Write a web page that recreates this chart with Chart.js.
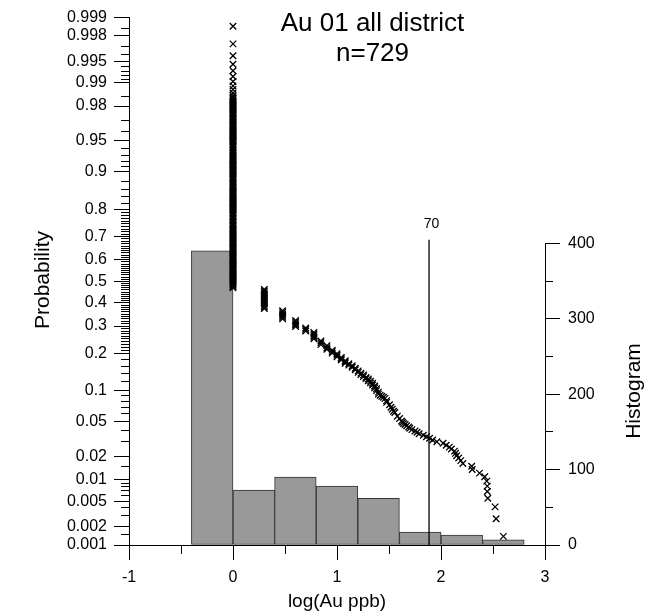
<!DOCTYPE html>
<html><head><meta charset="utf-8">
<script src="https://cdn.jsdelivr.net/npm/chart.js@4/dist/chart.umd.min.js"></script>
<style>html,body{margin:0;padding:0;background:#fff}#wrap{width:649px;height:616px;position:relative}</style>
</head><body><div id="wrap"><canvas id="c" width="649" height="616"></canvas></div>
<script>
// ---------- data ----------
const titleLines = ['Au 01 all district', 'n=729'];
const xAxisTitle = 'log(Au ppb)';
const yAxisTitle = 'Probability';
const y2AxisTitle = 'Histogram';

const xTickValues = [-1, -0.5, 0, 0.5, 1, 1.5, 2, 2.5, 3];
const xTickLabels = ['-1', '', '0', '', '1', '', '2', '', '3'];

const probMajorTicks = [0.001, 0.002, 0.005, 0.01, 0.02, 0.05, 0.1, 0.2, 0.3, 0.4, 0.5, 0.6, 0.7, 0.8, 0.9, 0.95, 0.98, 0.99, 0.995, 0.998, 0.999];
const probMinorTicks = [0.0015, 0.003, 0.004, 0.006, 0.007, 0.008, 0.009, 0.015, 0.03, 0.04, 0.06, 0.07, 0.08, 0.09,
  0.12, 0.14, 0.16, 0.18,
  0.21, 0.22, 0.23, 0.24, 0.25, 0.26, 0.27, 0.28, 0.29,
  0.31, 0.32, 0.33, 0.34, 0.35, 0.36, 0.37, 0.38, 0.39,
  0.41, 0.42, 0.43, 0.44, 0.45, 0.46, 0.47, 0.48, 0.49,
  0.51, 0.52, 0.53, 0.54, 0.55, 0.56, 0.57, 0.58, 0.59,
  0.61, 0.62, 0.63, 0.64, 0.65, 0.66, 0.67, 0.68, 0.69,
  0.71, 0.72, 0.73, 0.74, 0.75, 0.76, 0.77, 0.78, 0.79,
  0.82, 0.84, 0.86, 0.88, 0.91, 0.92, 0.93, 0.94, 0.96, 0.97, 0.985,
  0.991, 0.992, 0.993, 0.994, 0.996, 0.997, 0.9985];

const histTickValues = [0, 50, 100, 150, 200, 250, 300, 350, 400];
const histTickLabels = ['0', '', '100', '', '200', '', '300', '', '400'];

// histogram bins (log Au) and counts
const binStart = [-0.4, 0, 0.4, 0.8, 1.2, 1.6, 2.0, 2.4];
const binWidth = 0.4;
const binCount = [390, 73, 90, 78, 62, 17, 13, 7];

// threshold line (70 ppb)
const thresholdLabel = '70';
const thresholdLogAu = 1.885;
const thresholdTop = 405;

// probability plot: log(Au) values and their plotted probabilities
const groupLogAu = [0, 0.301, 0.477, 0.602, 0.699, 0.778, 0.845, 0.903, 0.954, 1.0, 1.041, 1.079, 1.114, 1.146, 1.176, 1.204, 1.23, 1.255, 1.279, 1.301, 1.322, 1.342, 1.362, 1.38, 1.398, 1.415, 1.431, 1.447, 1.462, 1.477, 1.505, 1.519, 1.531, 1.544, 1.556, 1.58, 1.602];
const groupProb = [
  [0.470, 0.475, 0.480, 0.485, 0.490, 0.495, 0.500, 0.505, 0.510, 0.515, 0.520, 0.525, 0.530, 0.535, 0.540, 0.545, 0.550, 0.555, 0.560, 0.565,
   0.570, 0.575, 0.580, 0.585, 0.590, 0.595, 0.600, 0.605, 0.610, 0.615, 0.620, 0.625, 0.630, 0.635, 0.640, 0.645, 0.650, 0.655, 0.660, 0.665,
   0.670, 0.675, 0.680, 0.685, 0.690, 0.695, 0.700, 0.705, 0.710, 0.715, 0.720, 0.725, 0.730, 0.735, 0.740, 0.745, 0.750, 0.755, 0.760, 0.765,
   0.770, 0.775, 0.780, 0.785, 0.790, 0.795, 0.800,
   0.803, 0.806, 0.809, 0.812, 0.815, 0.818, 0.821, 0.824, 0.827, 0.830, 0.833, 0.836, 0.839, 0.842, 0.845, 0.848, 0.851, 0.854, 0.857, 0.860,
   0.863, 0.866, 0.869, 0.872, 0.875, 0.878, 0.881, 0.884, 0.887, 0.890, 0.893, 0.896, 0.899,
   0.901, 0.903, 0.905, 0.907, 0.909, 0.911, 0.913, 0.915, 0.917, 0.919, 0.921, 0.923, 0.925, 0.927, 0.929, 0.931, 0.933, 0.935, 0.937, 0.939,
   0.941, 0.943, 0.945, 0.947, 0.949,
   0.950, 0.951, 0.952, 0.953, 0.954, 0.955, 0.956, 0.957, 0.958, 0.959, 0.960, 0.961, 0.962, 0.963, 0.964, 0.965, 0.966, 0.967, 0.968, 0.969,
   0.970, 0.971, 0.972, 0.973, 0.974, 0.975,
   0.9756, 0.9762, 0.9768, 0.9774, 0.9780, 0.9786, 0.9792, 0.9798, 0.9804, 0.9810, 0.9816, 0.9822, 0.9828, 0.9834, 0.9840, 0.9846, 0.9852,
   0.9863, 0.9877, 0.9890, 0.9904, 0.9918, 0.9932, 0.9945, 0.9959, 0.9973, 0.9986],
  [0.462, 0.455, 0.447, 0.44, 0.432, 0.425, 0.418, 0.41, 0.403, 0.396, 0.389, 0.382, 0.375],
  [0.365, 0.358, 0.351, 0.344, 0.337, 0.33],
  [0.323, 0.316, 0.31, 0.304, 0.298],
  [0.292, 0.286, 0.28],
  [0.274, 0.268, 0.262, 0.256, 0.25],
  [0.242, 0.236, 0.229],
  [0.225, 0.218, 0.213],
  [0.21, 0.205, 0.2],
  [0.198, 0.193, 0.188],
  [0.186, 0.182, 0.178],
  [0.176, 0.172, 0.168],
  [0.167, 0.163],
  [0.161, 0.157],
  [0.154, 0.15],
  [0.147, 0.143],
  [0.141, 0.137],
  [0.136, 0.132],
  [0.13, 0.127],
  [0.126, 0.122],
  [0.121, 0.117],
  [0.116, 0.112],
  [0.11, 0.106],
  [0.104, 0.1],
  [0.097, 0.093],
  [0.091], [0.089], [0.087], [0.085],
  [0.081, 0.078],
  [0.074], [0.07], [0.067], [0.064], [0.062], [0.057], [0.054]
];
// upper tail: individual samples (log Au, probability)
const tailLogAu = [1.62, 1.63, 1.64, 1.655, 1.67, 1.69, 1.70, 1.72, 1.75, 1.77, 1.79, 1.83, 1.86, 1.89, 1.92, 1.96, 2.02, 2.05, 2.08, 2.10, 2.13, 2.14, 2.15, 2.17, 2.19, 2.21, 2.295, 2.30, 2.37, 2.42, 2.44, 2.445, 2.445, 2.45, 2.52, 2.53, 2.60];
const tailProb  = [0.0507, 0.0493, 0.0479, 0.0466, 0.0452, 0.0438, 0.0425, 0.0411, 0.0397, 0.0384, 0.0370, 0.0356, 0.0342, 0.0329, 0.0315, 0.0301, 0.0288, 0.0274, 0.0260, 0.0247, 0.0233, 0.0219, 0.0205, 0.0192, 0.0178, 0.0164, 0.0151, 0.0137, 0.0123, 0.0110, 0.0096, 0.0082, 0.0069, 0.0055, 0.0041, 0.0027, 0.0014];

// ---------- normal probability transform ----------
function qnorm(p) {
  const a = [-3.969683028665376e+01, 2.209460984245205e+02, -2.759285104469687e+02, 1.383577518672690e+02, -3.066479806614716e+01, 2.506628277459239e+00];
  const b = [-5.447609879822406e+01, 1.615858368580409e+02, -1.556989798598866e+02, 6.680131188771972e+01, -1.328068155288572e+01];
  const c = [-7.784894002430293e-03, -3.223964580411365e-01, -2.400758277161838e+00, -2.549732539343734e+00, 4.374664141464968e+00, 2.938163982698783e+00];
  const d = [7.784695709041462e-03, 3.224671290700398e-01, 2.445134137142996e+00, 3.754408661907416e+00];
  const pl = 0.02425, ph = 1 - pl;
  let q, r;
  if (p < pl) { q = Math.sqrt(-2 * Math.log(p)); return (((((c[0]*q+c[1])*q+c[2])*q+c[3])*q+c[4])*q+c[5]) / ((((d[0]*q+d[1])*q+d[2])*q+d[3])*q+1); }
  if (p <= ph) { q = p - 0.5; r = q*q; return (((((a[0]*r+a[1])*r+a[2])*r+a[3])*r+a[4])*r+a[5])*q / (((((b[0]*r+b[1])*r+b[2])*r+b[3])*r+b[4])*r+1); }
  q = Math.sqrt(-2 * Math.log(1 - p));
  return -(((((c[0]*q+c[1])*q+c[2])*q+c[3])*q+c[4])*q+c[5]) / ((((d[0]*q+d[1])*q+d[2])*q+d[3])*q+1);
}

const points = [];
groupLogAu.forEach((x, i) => groupProb[i].forEach(p => points.push({x: x, y: qnorm(p)})));
tailLogAu.forEach((x, i) => points.push({x: x, y: qnorm(tailProb[i])}));

const probTicks = probMajorTicks.map(p => ({p, label: String(p)}))
  .concat(probMinorTicks.map(p => ({p, label: ''})))
  .sort((a, b) => a.p - b.p);

const FONT = "'Liberation Sans', Arial, Helvetica, sans-serif";
Chart.defaults.font.family = FONT;
Chart.defaults.color = '#000';

const isMinor = ctx => ctx.tick && ctx.tick.label === '';

const textPlugin = {
  id: 'texts',
  afterDraw(chart) {
    const {ctx, scales} = chart;
    ctx.save();
    // right (histogram) axis line, only over its tick range
    const xr = Math.round(scales.y2.left) + 0.5;
    ctx.strokeStyle = '#000'; ctx.lineWidth = 1;
    ctx.beginPath();
    ctx.moveTo(xr, scales.y2.getPixelForValue(histTickValues[histTickValues.length - 1]));
    ctx.lineTo(xr, scales.y2.getPixelForValue(0));
    ctx.stroke();
    ctx.fillStyle = '#000';
    // title
    ctx.font = '26px ' + FONT;
    ctx.textAlign = 'center'; ctx.textBaseline = 'alphabetic';
    ctx.fillText(titleLines[0], 372.5, 31);
    ctx.fillText(titleLines[1], 372.5, 61);
    // threshold label
    ctx.font = '14px ' + FONT;
    ctx.textBaseline = 'middle';
    ctx.fillText(thresholdLabel, scales.x.getPixelForValue(thresholdLogAu) + 2.5, scales.y2.getPixelForValue(thresholdTop) - 15.5);
    // axis titles
    ctx.font = '19px ' + FONT;
    ctx.fillText(xAxisTitle, (chart.chartArea.left + chart.chartArea.right) / 2, 602);
    ctx.font = '21px ' + FONT;
    ctx.save(); ctx.translate(43, 280); ctx.rotate(-Math.PI / 2); ctx.fillText(yAxisTitle, 0, 0); ctx.restore();
    ctx.save(); ctx.translate(634, 391); ctx.rotate(-Math.PI / 2); ctx.fillText(y2AxisTitle, 0, 0); ctx.restore();
    ctx.restore();
  }
};

new Chart(document.getElementById('c'), {
  type: 'scatter',
  data: {
    datasets: [
      {
        type: 'bar',
        data: binStart.map((s, i) => ({x: s + binWidth / 2, y: binCount[i]})),
        yAxisID: 'y2', xAxisID: 'x',
        backgroundColor: '#999999', borderColor: '#333333', borderWidth: 1, borderSkipped: false,
        barPercentage: 1, categoryPercentage: 1, order: 3
      },
      {
        type: 'line',
        data: [{x: thresholdLogAu, y: 0}, {x: thresholdLogAu, y: thresholdTop}],
        yAxisID: 'y2', xAxisID: 'x',
        borderColor: '#000', borderWidth: 1.3, pointRadius: 0, fill: false, order: 2
      },
      {
        type: 'scatter',
        data: points,
        yAxisID: 'y', xAxisID: 'x',
        pointStyle: 'crossRot', pointRadius: 4.6, borderColor: '#000', backgroundColor: '#000', borderWidth: 1.3,
        order: 1
      }
    ]
  },
  options: {
    responsive: false, animation: false, events: [],
    layout: {padding: {top: 15.7, left: 0, right: 0, bottom: 0}},
    plugins: {legend: {display: false}, tooltip: {enabled: false}, title: {display: false}},
    scales: {
      x: {
        type: 'linear', position: 'bottom', min: -1, max: 3, offset: false,
        afterBuildTicks: s => { s.ticks = xTickValues.map(v => ({value: v})); },
        afterFit: s => { s.height = 71; },
        ticks: {autoSkip: false, maxRotation: 0, padding: 8, font: {size: 16}, color: '#000', callback: (v, i) => xTickLabels[i]},
        grid: {offset: false, drawOnChartArea: false, drawTicks: true, tickLength: 15, tickColor: '#000', tickWidth: 1,
               tickBorderDash: ctx => isMinor(ctx) ? [8, 100] : []},
        border: {display: true, color: '#000', width: 1},
        title: {display: false}
      },
      y: {
        type: 'linear', position: 'left', min: qnorm(0.001), max: qnorm(0.999),
        afterBuildTicks: s => { s.ticks = probTicks.map(t => ({value: qnorm(t.p)})); },
        afterFit: s => { s.width = 129; },
        ticks: {autoSkip: false, padding: 7, font: {size: 16}, color: '#000', callback: (v, i) => probTicks[i].label},
        grid: {drawOnChartArea: false, drawTicks: true, tickLength: 15, tickColor: '#000', tickWidth: 1,
               tickBorderDash: ctx => isMinor(ctx) ? [0, 7, 8, 100] : []},
        border: {display: true, color: '#000', width: 1},
        title: {display: false}
      },
      y2: {
        type: 'linear', position: 'right', min: 0, max: 699.5,
        afterBuildTicks: s => { s.ticks = histTickValues.map(v => ({value: v})); },
        afterFit: s => { s.width = 104; },
        ticks: {autoSkip: false, padding: 8, font: {size: 16}, color: '#000', callback: (v, i) => histTickLabels[i]},
        grid: {drawOnChartArea: false, drawTicks: true, tickLength: 15, tickColor: '#000', tickWidth: 1,
               tickBorderDash: ctx => isMinor(ctx) ? [8, 100] : []},
        border: {display: false},
        title: {display: false}
      }
    }
  },
  plugins: [textPlugin]
});
</script>
</body></html>
